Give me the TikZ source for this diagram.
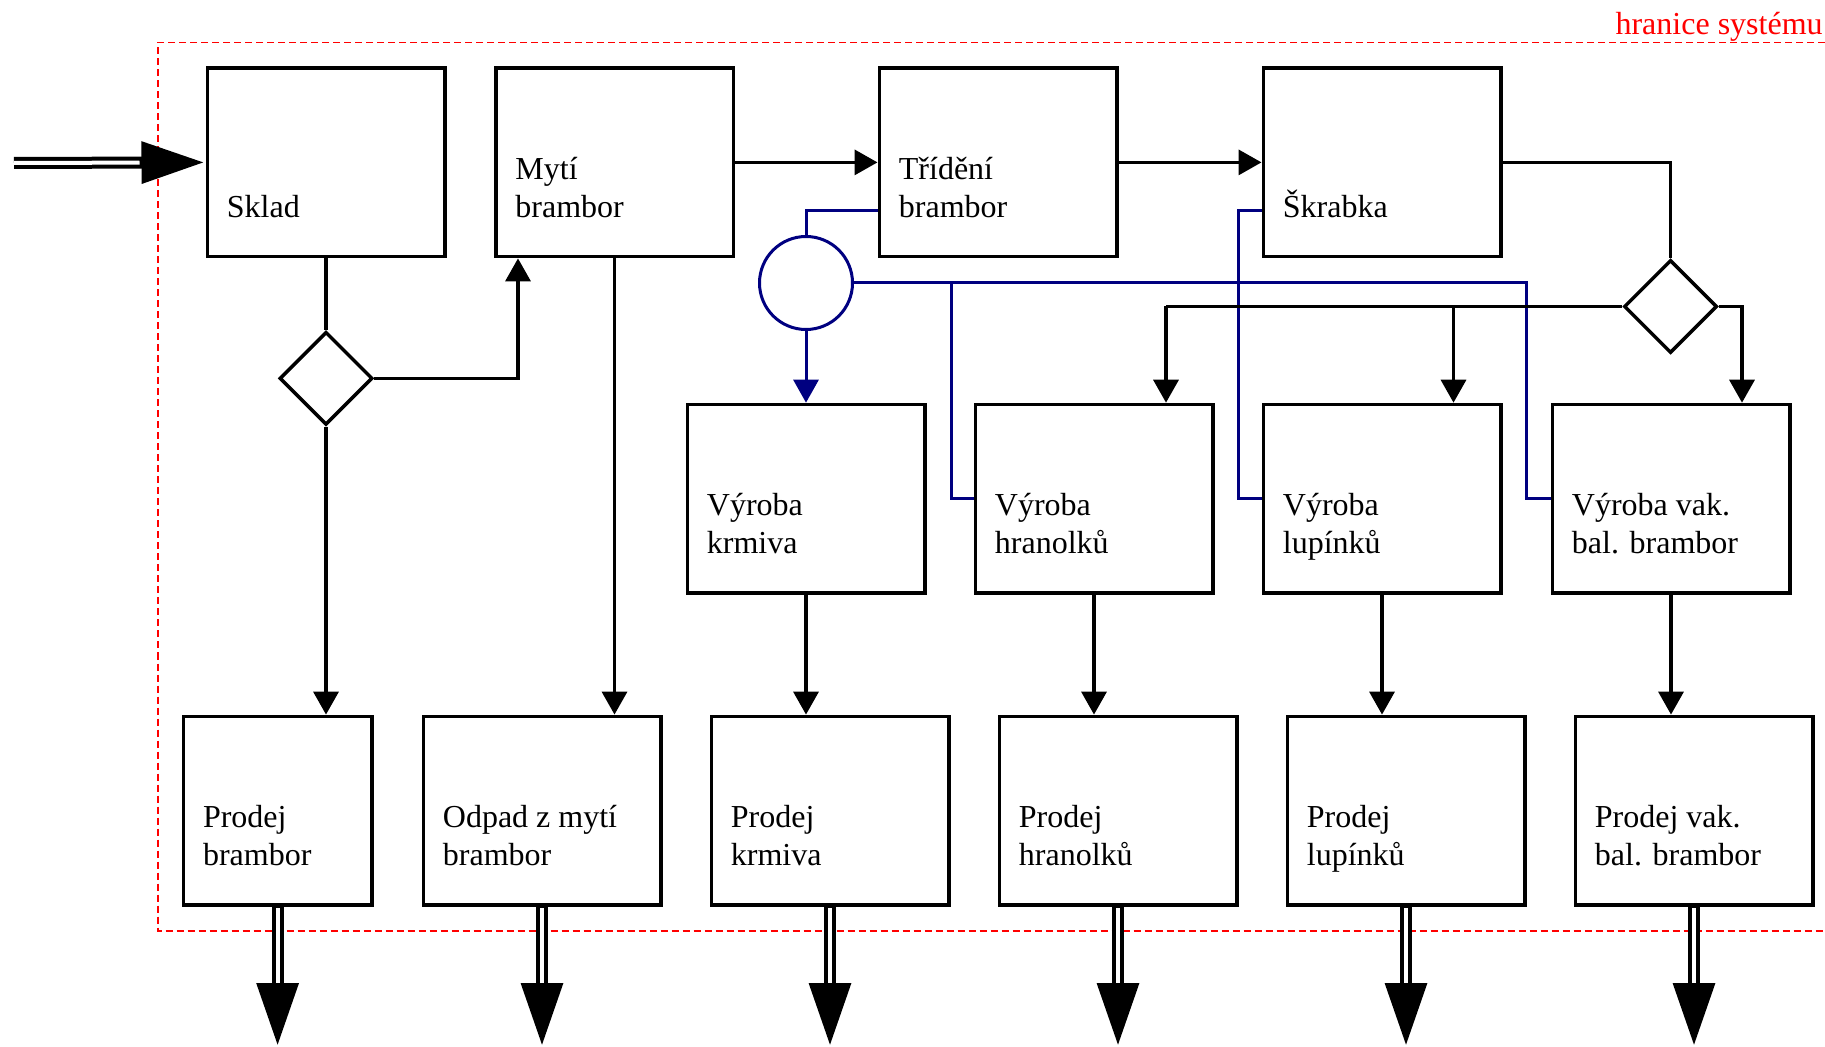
\documentclass[tikz,border=0pt]{standalone}
\usepackage{fontspec}
\setmainfont{Liberation Serif}
\usetikzlibrary{shapes.geometric,arrows.meta,calc}
\definecolor{sysred}{RGB}{255,0,0}
\definecolor{flowblue}{RGB}{0,0,128}
\newcommand{\twoln}[2]{\begin{tabular}[t]{@{}l@{}}#1\\#2\end{tabular}}
\begin{document}
\begin{tikzpicture}[x=0.5pt,y=-0.5pt,
  box/.style={draw,line width=1.75pt,minimum width=118.75pt,minimum height=94.25pt,inner sep=0pt,anchor=center},
  dia/.style={diamond,draw,line width=1.75pt,minimum width=46.5pt,minimum height=46.5pt,inner sep=0pt,aspect=1},
  circ/.style={circle,draw=flowblue,line width=1.5pt,minimum size=46.5pt,inner sep=0pt},
  txt/.style={anchor=base west,inner sep=0pt,font=\fontsize{16pt}{19pt}\selectfont},
  arr/.style={line width=1.75pt,-{Triangle[length=11.5pt,width=12.5pt]}},
  ln/.style={line width=1.75pt},
  bl/.style={draw=flowblue,line width=1.5pt},
  blarr/.style={draw=flowblue,fill=flowblue,line width=1.5pt,-{Triangle[length=11.5pt,width=12.5pt]}},
  big/.style={line width=6pt,-{Triangle[length=32pt,width=19.5pt]}},
  gap/.style={white,line width=2pt},
  border/.style={draw=sysred,line width=0.6pt,dash pattern=on 3.5pt off 2pt}
]
\useasboundingbox (0,0) rectangle (1825,1047);

% system boundary
\draw[border] (1825,42.5) -- (158,42.5) -- (158,931) -- (1825,931);
\node[txt,text=sysred,anchor=base east] (hr) at (1823,34.5) {hranice systému};

% boxes
\node[box] (sklad) at (326,162.4) {};
\node[box] (myti) at (614.5,162.4) {};
\node[box] (tride) at (998,162.4) {};
\node[box] (skrab) at (1382,162.4) {};
\node[box] (vkrm) at (806,498.7) {};
\node[box] (vhran) at (1094,498.7) {};
\node[box] (vlup) at (1382,498.7) {};
\node[box] (vvak) at (1671,498.7) {};
\node[box,minimum width=94.25pt] (pbr) at (277.6,810.6) {};
\node[box] (odpad) at (542,810.6) {};
\node[box] (pkrm) at (830,810.6) {};
\node[box] (phran) at (1118,810.6) {};
\node[box] (plup) at (1406,810.6) {};
\node[box] (pvak) at (1694,810.6) {};

% texts
\node[txt] (sklad-t) at ($(sklad.north west)+(21,151)$) {Sklad};
\node[txt] (myti-t) at ($(myti.north west)+(21,113)$) {\twoln{Mytí}{brambor}};
\node[txt] (tride-t) at ($(tride.north west)+(21,113)$) {\twoln{Třídění}{brambor}};
\node[txt] (skrab-t) at ($(skrab.north west)+(21,151)$) {Škrabka};
\node[txt] (vkrm-t) at ($(vkrm.north west)+(21,113)$) {\twoln{Výroba}{krmiva}};
\node[txt] (vhran-t) at ($(vhran.north west)+(21,113)$) {\twoln{Výroba}{hranolků}};
\node[txt] (vlup-t) at ($(vlup.north west)+(21,113)$) {\twoln{Výroba}{lupínků}};
\node[txt] (vvak-t) at ($(vvak.north west)+(21,113)$) {\twoln{Výroba vak.}{bal. brambor}};
\node[txt] (pbr-t) at ($(pbr.north west)+(21,113)$) {\twoln{Prodej}{brambor}};
\node[txt] (odpad-t) at ($(odpad.north west)+(21,113)$) {\twoln{Odpad z mytí}{brambor}};
\node[txt] (pkrm-t) at ($(pkrm.north west)+(21,113)$) {\twoln{Prodej}{krmiva}};
\node[txt] (phran-t) at ($(phran.north west)+(21,113)$) {\twoln{Prodej}{hranolků}};
\node[txt] (plup-t) at ($(plup.north west)+(21,113)$) {\twoln{Prodej}{lupínků}};
\node[txt] (pvak-t) at ($(pvak.north west)+(21,113)$) {\twoln{Prodej vak.}{bal. brambor}};

% decision diamonds and distributor circle
\node[dia] (d1) at (326,378.3) {};
\node[dia] (d2) at (1670.5,306.5) {};
\node[circ] (circ) at (806,283) {};

% helper coordinates
\coordinate (in) at (14,163);
\coordinate (mx) at (518,378.3);
\coordinate (h1) at (1166,306.5);
\coordinate (h2) at (1453.5,306.5);
\coordinate (h3) at (1742,306.5);
\coordinate (tby) at (0,210.7);
\coordinate (bj) at (1526,283);
\coordinate (bk) at (951,283);
\coordinate (bs) at (1238,210.7);
\coordinate (o1) at (277.6,1047);
\coordinate (o2) at (542,1047);
\coordinate (o3) at (830,1047);
\coordinate (o4) at (1118,1047);
\coordinate (o5) at (1406,1047);
\coordinate (o6) at (1694,1047);

% blue flows
\draw[bl] (tride.west |- tby) -| (circ.north);
\draw[blarr] (circ.south) -- (circ.south |- vkrm.north);
\draw[bl] (circ.east) -- (bj) |- (vvak.west);
\draw[bl] (bk) |- (vhran.west);
\draw[bl] (skrab.west |- tby) -- (bs) |- (vlup.west);

% black flows
\draw[ln] (sklad.south) -- (d1.north);
\draw[arr] (d1.east) -- (mx) -- (mx |- myti.south);
\draw[arr] (d1.south) -- (d1.south |- pbr.north);
\draw[arr] (myti.south) -- (myti.south |- odpad.north);
\draw[arr] (myti.east) -- (tride.west);
\draw[arr] (tride.east) -- (skrab.west);
\draw[ln] (skrab.east) -| (d2.north);
\draw[ln] (d2.west) -- (h1);
\draw[arr] (h1) -- (h1 |- vhran.north);
\draw[arr] (h2) -- (h2 |- vlup.north);
\draw[arr] (d2.east) -- (h3) -- (h3 |- vvak.north);
\draw[arr] (vkrm.south) -- (vkrm.south |- pkrm.north);
\draw[arr] (vhran.south) -- (vhran.south |- phran.north);
\draw[arr] (vlup.south) -- (vlup.south |- plup.north);
\draw[arr] (vvak.south) -- (vvak.south |- pvak.north);

% input / output double arrows
\draw[big] (in) -- (sklad.west);
\draw[gap,shorten >=33pt] (in) -- (sklad.west);
\foreach \b/\o in {pbr/o1,odpad/o2,pkrm/o3,phran/o4,plup/o5,pvak/o6}{
  \draw[big] (\b.south) -- (\o);
  \draw[gap,shorten <=0.9pt,shorten >=32pt] (\b.south) -- (\o);
}
\end{tikzpicture}
\end{document}
